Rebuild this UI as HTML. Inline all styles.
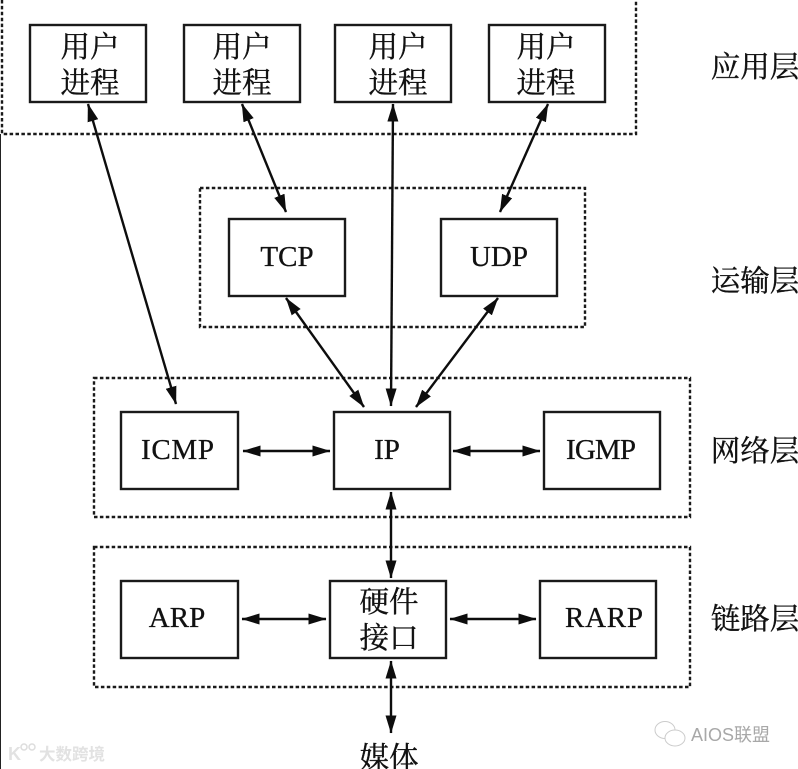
<!DOCTYPE html>
<html><head><meta charset="utf-8"><style>
html,body{margin:0;padding:0;background:#fff;width:798px;height:769px;overflow:hidden}
svg{display:block}
.t{font-family:"Liberation Serif","Noto Serif CJK SC",serif;font-size:29px;fill:#111;stroke:#111;stroke-width:.3;text-anchor:middle}
.c{font-family:"Noto Serif CJK SC","Liberation Serif",serif;font-size:29.5px;fill:#111;stroke:#111;stroke-width:.35;text-anchor:middle}
.b{fill:#fff;stroke:#1a1a1a;stroke-width:2.4}
.d{fill:none;stroke:#1a1a1a;stroke-width:2.4;stroke-dasharray:3.5 2.4}
.a{stroke:#0d0d0d;stroke-width:2.4;marker-start:url(#h);marker-end:url(#h)}
</style></head><body>
<svg width="798" height="769" viewBox="0 0 798 769" xmlns="http://www.w3.org/2000/svg">
<defs><marker id="h" viewBox="0 0 18 11" refX="17.5" refY="5.5" markerWidth="18" markerHeight="11" markerUnits="userSpaceOnUse" orient="auto-start-reverse"><path d="M0 0L18 5.5L0 11Z" fill="#0d0d0d"/></marker></defs>
<rect width="798" height="769" fill="#fff"/>
<path d="M0.5 134V769" stroke="#222" stroke-width="1"/>
<path class="d" d="M2 0V134H636V0"/>
<rect class="d" x="200" y="188" width="385" height="139"/>
<rect class="d" x="94" y="378" width="596" height="139"/>
<rect class="d" x="94" y="547" width="596" height="140"/>
<rect class="b" x="30" y="25" width="116" height="77"/>
<rect class="b" x="184" y="25" width="116" height="77"/>
<rect class="b" x="335" y="25" width="116" height="77"/>
<rect class="b" x="489" y="25" width="116" height="77"/>
<rect class="b" x="229" y="219" width="116" height="77"/>
<rect class="b" x="441" y="219" width="116" height="77"/>
<rect class="b" x="121" y="412" width="117" height="77"/>
<rect class="b" x="334" y="412" width="116" height="77"/>
<rect class="b" x="544" y="412" width="116" height="77"/>
<rect class="b" x="121" y="581" width="117" height="77"/>
<rect class="b" x="330" y="581" width="116" height="77"/>
<rect class="b" x="540" y="581" width="116" height="77"/>
<line class="a" x1="88" y1="104" x2="176" y2="404"/>
<line class="a" x1="242" y1="104" x2="286" y2="212"/>
<line class="a" x1="393" y1="104" x2="391" y2="406"/>
<line class="a" x1="548" y1="104" x2="500" y2="212"/>
<line class="a" x1="286" y1="298" x2="364" y2="407"/>
<line class="a" x1="498" y1="298" x2="416" y2="407"/>
<line class="a" x1="243" y1="451" x2="330" y2="451"/>
<line class="a" x1="453" y1="451" x2="540" y2="451"/>
<line class="a" x1="391" y1="492" x2="391" y2="578"/>
<line class="a" x1="242" y1="619" x2="326" y2="619"/>
<line class="a" x1="450" y1="619" x2="536" y2="619"/>
<line class="a" x1="391" y1="661" x2="391" y2="733"/>
<text class="c" x="90" y="57">用户</text><text class="c" x="90" y="93">进程</text>
<text class="c" x="242" y="57">用户</text><text class="c" x="242" y="93">进程</text>
<text class="c" x="398" y="57">用户</text><text class="c" x="398" y="93">进程</text>
<text class="c" x="546" y="57">用户</text><text class="c" x="546" y="93">进程</text>
<text class="t" x="287" y="266">TCP</text>
<text class="t" x="499" y="266">UDP</text>
<text class="t" x="177.5" y="459" textLength="73">ICMP</text>
<text class="t" x="387" y="459">IP</text>
<text class="t" x="601" y="459" textLength="70">IGMP</text>
<text class="t" x="177" y="627">ARP</text>
<text class="t" x="604" y="627" textLength="78">RARP</text>
<text class="c" x="389" y="612">硬件</text><text class="c" x="389" y="648">接口</text>
<text class="c" x="389" y="768">媒体</text>
<text class="c" x="755" y="77">应用层</text>
<text class="c" x="755" y="291">运输层</text>
<text class="c" x="755" y="461">网络层</text>
<text class="c" x="755" y="629">链路层</text>
<text x="39" y="760" font-family="'Noto Sans CJK SC',sans-serif" font-size="16.5" font-weight="700" fill="#e2e2e2">大数跨境</text>
<text x="8" y="760" font-family="'Liberation Sans',sans-serif" font-size="18" font-weight="700" fill="#e2e2e2">K</text>
<circle cx="24" cy="747" r="3" fill="none" stroke="#ddd" stroke-width="1.5"/><circle cx="32" cy="747" r="3" fill="none" stroke="#ddd" stroke-width="1.5"/>
<ellipse cx="665" cy="730" rx="10" ry="8.5" fill="none" stroke="#ccc"/><ellipse cx="675" cy="738" rx="10" ry="8" fill="#fff" stroke="#ccc"/>
<text x="691" y="741" font-family="'Liberation Sans','Noto Sans CJK SC',sans-serif" font-size="18" fill="#a8a8a8">AIOS联盟</text>
</svg>
</body></html>
